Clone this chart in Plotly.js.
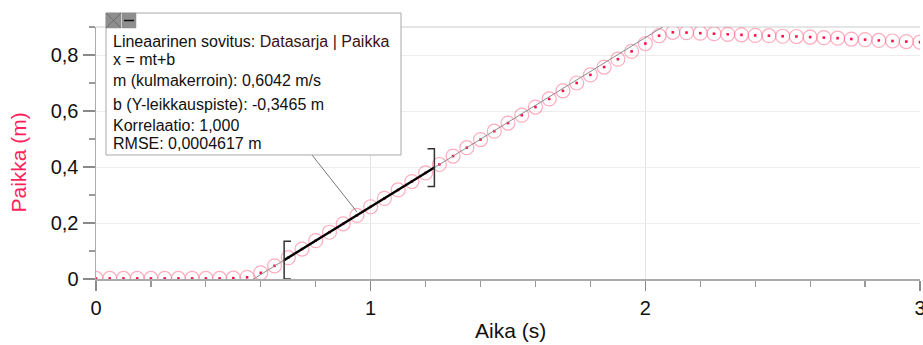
<!DOCTYPE html>
<html><head><meta charset="utf-8">
<script src="https://cdn.plot.ly/plotly-3.0.1.min.js"></script>
<style>html,body{margin:0;padding:0;background:#fff}#chart{width:923px;height:345px}</style>
</head><body><div id="chart"></div>
<script>
// ---- data ----
const time = [0,0.05,0.10,0.15,0.20,0.25,0.30,0.35,0.40,0.45,0.50,0.55,0.60,0.65,0.70,0.75,0.80,0.85,0.90,0.95,
  1.00,1.05,1.10,1.15,1.20,1.25,1.30,1.35,1.40,1.45,1.50,1.55,1.60,1.65,1.70,1.75,1.80,1.85,1.90,1.95,
  2.00,2.05,2.10,2.15,2.20,2.25,2.30,2.35,2.40,2.45,2.50,2.55,2.60,2.65,2.70,2.75,2.80,2.85,2.90,2.95,3.00];
const position = [0.002,0.002,0.002,0.002,0.002,0.002,0.002,0.002,0.002,0.002,0.003,0.006,0.022,0.047,0.076,0.107,0.137,0.167,0.197,0.227,
  0.258,0.288,0.318,0.348,0.379,0.409,0.439,0.469,0.498,0.528,0.557,0.585,0.614,0.643,0.672,0.700,0.729,0.757,0.785,0.813,
  0.841,0.869,0.881,0.880,0.878,0.876,0.874,0.872,0.870,0.869,0.867,0.866,0.864,0.862,0.860,0.857,0.855,0.852,0.850,0.848,0.846];
const fitSlope = 0.6042;
const fitIntercept = -0.3465;
const fitStart = 0.685;
const fitEnd = 1.232;
const xTickVals = [0,1,2,3];
const xTickText = ['0','1','2','3'];
const yTickVals = [0,0.2,0.4,0.6,0.8];
const yTickText = ['0','0,2','0,4','0,6','0,8'];
const infoLines = [
  'Lineaarinen sovitus: <span style="color:#3a1212">Datasarja | Paikka</span>',
  'x = mt+b',
  'm (kulmakerroin): 0,6042 m/s',
  'b (Y-leikkauspiste): -0,3465 m',
  'Korrelaatio: 1,000',
  'RMSE: 0,0004617 m'
];

// ---- layout helpers (pixel -> paper) ----
const W = 923, H = 345, L = 96, R = 3, T = 27, B = 66;
const PX = p => (p - L) / (W - L - R);
const PY = p => (H - B - p) / (H - B - T);
const fit = t => fitSlope * t + fitIntercept;
const FONT = 'Liberation Sans, Arial, sans-serif';

const traces = [
  {x: time, y: position, type: 'scatter', mode: 'markers', hoverinfo: 'skip',
   marker: {symbol: 'circle-open', size: 14, color: 'rgba(255,70,110,0.45)', line: {width: 1.2, color: 'rgba(255,70,110,0.45)'}}},
  {x: time, y: position, type: 'scatter', mode: 'markers', hoverinfo: 'skip',
   marker: {symbol: 'square', size: 2.6, color: '#ff1048'}},
  {x: [time[0], time[time.length-1]], y: [fit(time[0]), fit(time[time.length-1])], type: 'scatter', mode: 'lines',
   line: {color: '#8c8c8c', width: 1}, hoverinfo: 'skip'},
  {x: [fitStart, fitEnd], y: [fit(fitStart), fit(fitEnd)], type: 'scatter', mode: 'lines',
   line: {color: '#000', width: 2.4}, hoverinfo: 'skip'}
];

const bh = 0.0675, bw = 0.025;
const yl = fit(fitStart), yr = fit(fitEnd);
const shapes = [
  {type: 'path', xref: 'x', yref: 'y', layer: 'above', line: {color: '#333', width: 1.5},
   path: `M${fitStart+bw},${yl+bh} L${fitStart},${yl+bh} L${fitStart},${yl-bh} L${fitStart+bw},${yl-bh}`},
  {type: 'path', xref: 'x', yref: 'y', layer: 'above', line: {color: '#333', width: 1.5},
   path: `M${fitEnd-bw},${yr+bh} L${fitEnd},${yr+bh} L${fitEnd},${yr-bh} L${fitEnd-bw},${yr-bh}`},
  // leader line from info box to the fit line
  {type: 'line', xref: 'paper', yref: 'paper', layer: 'above', line: {color: '#777', width: 1},
   x0: PX(312), y0: PY(155), x1: PX(357), y1: PY(212)},
  // top border of plot area
  {type: 'line', xref: 'paper', yref: 'paper', layer: 'below', line: {color: '#dcdcdc', width: 1.5},
   x0: 0, x1: 1, y0: 1, y1: 1},
  // info box
  {type: 'rect', xref: 'paper', yref: 'paper', layer: 'above', fillcolor: '#fff', line: {color: '#a8a8a8', width: 1},
   x0: PX(106), x1: PX(401), y0: PY(155), y1: PY(13)},
  {type: 'rect', xref: 'paper', yref: 'paper', layer: 'above', fillcolor: '#8e8e8e', line: {color: '#8e8e8e', width: 0.5},
   x0: PX(106), x1: PX(121), y0: PY(28), y1: PY(13)},
  {type: 'rect', xref: 'paper', yref: 'paper', layer: 'above', fillcolor: '#8e8e8e', line: {color: '#8e8e8e', width: 0.5},
   x0: PX(122), x1: PX(136), y0: PY(28), y1: PY(13)},
  {type: 'line', xref: 'paper', yref: 'paper', layer: 'above', line: {color: '#6e6e6e', width: 1},
   x0: PX(106), x1: PX(121), y0: PY(13), y1: PY(28)},
  {type: 'line', xref: 'paper', yref: 'paper', layer: 'above', line: {color: '#6e6e6e', width: 1},
   x0: PX(106), x1: PX(121), y0: PY(28), y1: PY(13)},
  {type: 'line', xref: 'paper', yref: 'paper', layer: 'above', line: {color: '#111', width: 1.5},
   x0: PX(124), x1: PX(134), y0: PY(20.5), y1: PY(20.5)}
];

const lineCenters = [41.7, 60, 80.7, 104.3, 125.3, 143.3];
const annotations = infoLines.map((t, i) => ({
  text: t, xref: 'paper', yref: 'paper', x: PX(111.5), y: PY(lineCenters[i]),
  xanchor: 'left', yanchor: 'middle', showarrow: false, borderpad: 0,
  font: {family: FONT, size: 16, color: '#111'}
}));
annotations.push({text: 'Paikka (m)', xref: 'paper', yref: 'paper', x: PX(18), y: PY(162.5),
  xanchor: 'center', yanchor: 'middle', textangle: -90, showarrow: false,
  font: {family: FONT, size: 21, color: '#ff1f5c'}});
annotations.push({text: 'Aika (s)', xref: 'paper', yref: 'paper', x: PX(510), y: PY(330),
  xanchor: 'center', yanchor: 'middle', showarrow: false,
  font: {family: FONT, size: 21, color: '#111'}});

const layout = {
  width: W, height: H, margin: {l: L, r: R, t: T, b: B},
  paper_bgcolor: '#fff', plot_bgcolor: '#fff', showlegend: false,
  font: {family: FONT, color: '#111'},
  xaxis: {range: [0, 3], tickvals: xTickVals, ticktext: xTickText, ticks: 'outside', ticklen: 10, tickwidth: 1.5,
    tickcolor: '#8a8a8a', showline: true, linecolor: '#ababab', linewidth: 1.5, showgrid: true, gridcolor: '#e3e3e3', gridwidth: 1.5,
    zeroline: false, tickfont: {family: FONT, size: 20, color: '#111'}, fixedrange: true, ticklabeloverflow: 'allow',
    minor: {dtick: 0.2, tick0: 0, ticks: 'outside', ticklen: 6, tickwidth: 1.2, tickcolor: '#9a9a9a', showgrid: false}},
  yaxis: {range: [0, 0.9], tickvals: yTickVals, ticktext: yTickText, ticks: 'outside', ticklen: 12, tickwidth: 1.5,
    tickcolor: '#8a8a8a', showline: true, linecolor: '#ababab', linewidth: 1.5, showgrid: true, gridcolor: '#ececec', gridwidth: 1,
    zeroline: false, tickfont: {family: FONT, size: 20, color: '#111'}, fixedrange: true,
    minor: {dtick: 0.1, tick0: 0, ticks: 'outside', ticklen: 6, tickwidth: 1.2, tickcolor: '#9a9a9a', showgrid: false}},
  shapes: shapes, annotations: annotations
};

Plotly.newPlot('chart', traces, layout, {displayModeBar: false, staticPlot: true});
</script>
</body></html>
